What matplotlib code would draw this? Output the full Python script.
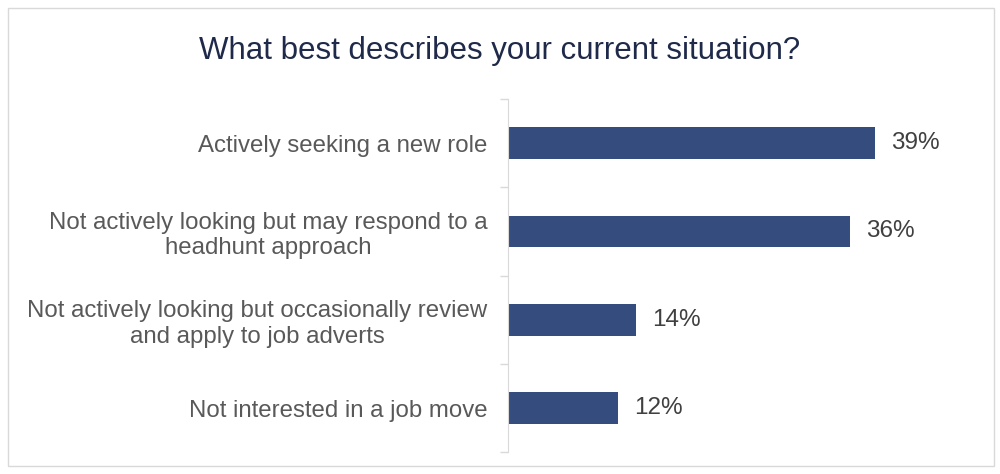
import matplotlib
matplotlib.use("Agg")
from matplotlib import pyplot as plt
from matplotlib.patches import Rectangle

plt.rcParams['font.family'] = ['Liberation Sans', 'DejaVu Sans']

# data (bar lengths, labels as printed)
categories = [
    "Actively seeking a new role",
    "Not actively looking but may respond to a\nheadhunt approach",
    "Not actively looking but occasionally review\nand apply to job adverts",
    "Not interested in a job move",
]
values = [39.0, 36.3, 13.6, 11.7]
labels = ["39%", "36%", "14%", "12%"]

bar_color = "#344c7e"
text_gray = "#595959"

fig = plt.figure(figsize=(10, 4.74), dpi=100)
fig.patches.append(Rectangle((0.008, 0.017), 0.986, 0.966, transform=fig.transFigure,
                             fill=False, edgecolor="#d9d9d9", linewidth=1))

fig.text(0.5, 0.893, "What best describes your current situation?", ha="center", va="center",
         fontsize=22.5, color="#1f2a4a")

ax = fig.add_axes([0.508, 0.046, 0.452, 0.745])
y = list(range(len(categories)))
ax.barh(y, values, height=0.36, color=bar_color)
for yi, v, lab in zip(y, values, labels):
    ax.text(v + 1.7, yi, lab, va="center", ha="left", fontsize=17.5, color="#404040")

ax.set_ylim(3.5, -0.5)
ax.set_xlim(0, 48)
ax.set_yticks(y)
ax.set_yticklabels(categories, fontsize=17.3, color=text_gray, ha="right",
                   multialignment="center", linespacing=1.2)
ax.set_yticks([-0.5, 0.5, 1.5, 2.5, 3.5], minor=True)
ax.tick_params(axis="y", which="major", length=0, pad=15)
ax.tick_params(axis="y", which="minor", length=6, color="#d9d9d9", width=1)
ax.set_xticks([])
for s in ["top", "right", "bottom"]:
    ax.spines[s].set_visible(False)
ax.spines["left"].set_color("#d9d9d9")

fig.savefig("out.png", dpi=100)
